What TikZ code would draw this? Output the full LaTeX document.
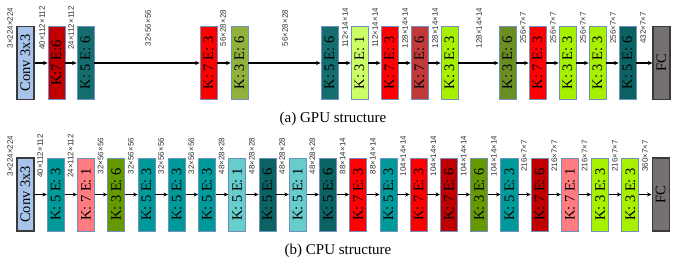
\documentclass[tikz,border=0pt]{standalone}
\usepackage{fontspec}
\setmainfont{Liberation Serif}
\setsansfont{Liberation Sans}
\usetikzlibrary{arrows.meta}
\definecolor{convblue}{HTML}{A9C4EB}
\definecolor{dred}{HTML}{C00000}
\definecolor{tealA}{HTML}{156E6E}
\definecolor{tealB}{HTML}{0B6262}
\definecolor{tealC}{HTML}{009999}
\definecolor{cyanL}{HTML}{66CCCC}
\definecolor{brick}{HTML}{C03A3A}
\definecolor{oliveA}{HTML}{92B03C}
\definecolor{oliveB}{HTML}{6B8E23}
\definecolor{oliveC}{HTML}{669900}
\definecolor{limeL}{HTML}{CCFF66}
\definecolor{limeB}{HTML}{A6F000}
\definecolor{salmon}{HTML}{FF7C80}
\definecolor{fcgray}{HTML}{767171}
\definecolor{boxborder}{HTML}{7090BE}
\definecolor{darkborder}{HTML}{3A3A3A}
\begin{document}
\begin{tikzpicture}[x=1pt,y=-1pt,
  box/.style={draw=boxborder, line width=0.7pt, rotate=90, minimum width=73pt,
    minimum height=17pt, inner sep=0pt, font=\fontsize{14.5}{16}\selectfont},
  heavybox/.style={box, draw=darkborder, line width=1.1pt},
  lab/.style={rotate=90, inner sep=0pt, text=black!80,
    font=\sffamily\fontsize{8}{9}\selectfont},
  arr/.style={line width=1.1pt, -{Stealth[length=4.5pt,width=4pt]}},
  captext/.style={font=\fontsize{15}{17}\selectfont}]
\useasboundingbox (0,0) rectangle (676,270);
% ---------- GPU row ----------
\node[heavybox, fill=convblue] (t0) at (25.5,63) {Conv 3x3};
\foreach \i/\x/\c/\t in {1/48/dred/K:7 E:6, 2/77/tealA/K: 5 E: 6, 3/200/red/K: 7 E: 3,
  4/231/oliveA/K: 3 E: 6, 5/321/tealA/K: 5 E: 6, 6/351/limeL/K: 3 E: 1,
  7/381/red/K: 7 E: 3, 8/411/brick/K: 7 E: 6, 9/441/limeB/K: 3 E: 3,
  10/499/oliveB/K: 3 E: 6, 11/529/red/K: 7 E: 3, 12/559/limeB/K: 3 E: 3,
  13/589/limeB/K: 3 E: 3, 14/619/tealB/K: 5 E: 6}
  \node[box, fill=\c] (t\i) at (\x+8.5,63) {\t};
\node[heavybox, fill=fcgray] (t15) at (661.5,63) {FC};
\foreach \i [evaluate=\i as \j using int(\i+1)] in {0,...,14}
  \draw[arr] (t\i) -- (t\j);
\foreach \i/\x/\t in {0/10/3×224×224, 1/42/40×112×112, 2/71/24×112×112,
  3/148/32×56×56, 4/223/56×28×28, 5/285/56×28×28, 6/345/112×14×14,
  7/375/112×14×14, 8/405/128×14×14, 9/435/128×14×14, 10/479/128×14×14,
  11/523/256×7×7, 12/553/256×7×7, 13/583/256×7×7, 14/613/256×7×7, 15/643/432×7×7}
  \node[lab] (tl\i) at (\x,28) {\t};
\node[captext] (capa) at (333,119) {(a) GPU structure};
% ---------- CPU row ----------
\node[heavybox, fill=convblue] (b0) at (25.5,194.5) {Conv 3x3};
\foreach \k/\c/\t [evaluate=\k as \bx using 25.5+30.24*\k] in {1/tealC/K: 5 E: 3,
  2/salmon/K: 7 E: 1, 3/oliveC/K: 3 E: 6, 4/tealC/K: 5 E: 3, 5/tealC/K: 5 E: 3,
  6/tealC/K: 5 E: 3, 7/cyanL/K: 5 E: 1, 8/tealB/K: 5 E: 6, 9/cyanL/K: 5 E: 1,
  10/tealB/K: 5 E: 6, 11/red/K: 7 E: 3, 12/tealC/K: 5 E: 3, 13/red/K: 7 E: 3,
  14/dred/K: 7 E: 6, 15/oliveC/K: 3 E: 6, 16/tealC/K: 5 E: 3, 17/dred/K: 7 E: 6,
  18/salmon/K: 7 E: 1, 19/limeB/K: 3 E: 3, 20/limeB/K: 3 E: 3}
  \node[box, fill=\c] (b\k) at (\bx,194.5) {\t};
\node[heavybox, fill=fcgray] (b21) at (25.5+30.24*21,194.5) {FC};
\foreach \i [evaluate=\i as \j using int(\i+1)] in {0,...,20}
  \draw[arr] (b\i) -- (b\j);
\node[lab] (bl0) at (10,156) {3×224×224};
\foreach \k/\t [evaluate=\k as \lx using 10+30.24*\k] in {1/40×112×112, 2/24×112×112,
  3/32×56×56, 4/32×56×56, 5/32×56×56, 6/32×56×56, 7/48×28×28, 8/48×28×28,
  9/48×28×28, 10/48×28×28, 11/88×14×14, 12/88×14×14, 13/104×14×14,
  14/104×14×14, 15/104×14×14, 16/104×14×14, 17/216×7×7, 18/216×7×7,
  19/216×7×7, 20/216×7×7, 21/360×7×7}
  \node[lab] (bl\k) at (\lx,156) {\t};
\node[captext] (capb) at (338,251) {(b) CPU structure};
\end{tikzpicture}
\end{document}
